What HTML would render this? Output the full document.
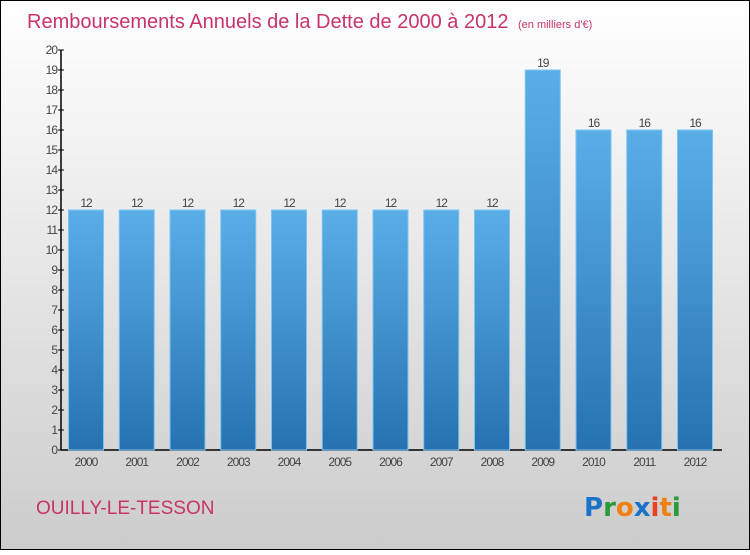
<!DOCTYPE html>
<html><head><meta charset="utf-8"><style>
body{margin:0;width:750px;height:550px;overflow:hidden;font-family:"Liberation Sans",sans-serif}
</style></head><body>
<svg width="750" height="550" xmlns="http://www.w3.org/2000/svg">
<defs>
<linearGradient id="bg" x1="0" y1="0" x2="0" y2="1"><stop offset="0" stop-color="#ffffff"/><stop offset="1" stop-color="#cccccc"/></linearGradient>
<linearGradient id="bar" x1="0" y1="0" x2="0" y2="1"><stop offset="0" stop-color="#5aaee8"/><stop offset="1" stop-color="#2672b0"/></linearGradient>
</defs>
<rect x="0.5" y="0.5" width="749" height="549" fill="url(#bg)" stroke="#000"/>
<text x="27" y="28" font-size="20" fill="#c8336a">Remboursements Annuels de la Dette de 2000 à 2012 <tspan font-size="11" dx="4">(en milliers d'€)</tspan></text>
<g id="yaxis"></g>
<g id="bars"></g>
<text x="36" y="514" font-size="19" fill="#c8336a">OUILLY-LE-TESSON</text>
<g font-size="26" font-weight="bold" font-family="'DejaVu Sans',sans-serif">
<text x="584" y="516"><tspan fill="#1a73c8">P</tspan><tspan fill="#2a9a3a">r</tspan><tspan fill="#f08010">o</tspan><tspan fill="#1a73c8">x</tspan><tspan fill="#e84020">i</tspan><tspan fill="#f08010">t</tspan><tspan fill="#2a9a3a">i</tspan></text>
</g>
</svg>
<script>
const categories=["2000","2001","2002","2003","2004","2005","2006","2007","2008","2009","2010","2011","2012"];
const values=[12,12,12,12,12,12,12,12,12,19,16,16,16];
const yTicks=[0,1,2,3,4,5,6,7,8,9,10,11,12,13,14,15,16,17,18,19,20];
const NS="http://www.w3.org/2000/svg";
const x0=61,y0=450,yTop=50,yMax=20,step=50.75,first=86,bw=35;
const y=v=>y0-(v/yMax)*(y0-yTop);
const xc=i=>first+i*step;
function mk(t,a,p){const e=document.createElementNS(NS,t);for(const k in a)e.setAttribute(k,a[k]);p.appendChild(e);return e;}
const ya=document.getElementById('yaxis'),bg=document.getElementById('bars');
let l=mk('line',{x1:x0,y1:yTop,x2:x0,y2:y0,stroke:'#000','stroke-width':1.5},ya);


l=mk('line',{x1:x0,y1:y0,x2:722,y2:y0,stroke:'#000','stroke-width':1.5},ya);


yTicks.forEach(t=>{
 const tk=mk('line',{x1:x0-3,y1:y(t),x2:x0+3,y2:y(t),stroke:'#000'},ya);
 
 
 const tx=mk('text',{x:x0-4,y:y(t)+4,'font-size':12,fill:'#444','text-anchor':'end','letter-spacing':'-1'},ya);
 tx.textContent=t;
 
 
});
values.forEach((v,i)=>{
 const r=mk('rect',{x:xc(i)-bw/2,y:y(v),width:bw,height:y0-y(v),fill:'url(#bar)',stroke:'#7cc4f4','stroke-width':1},bg);
 
 
 const vl=mk('text',{x:xc(i),y:y(v)-3,'font-size':12,fill:'#444','text-anchor':'middle','letter-spacing':'-1'},bg);
 vl.textContent=v;
 
 
 const cl=mk('text',{x:xc(i),y:466,'font-size':12,fill:'#444','text-anchor':'middle','letter-spacing':'-1'},bg);
 cl.textContent=categories[i];
 
 
});
</script>
</body></html>
